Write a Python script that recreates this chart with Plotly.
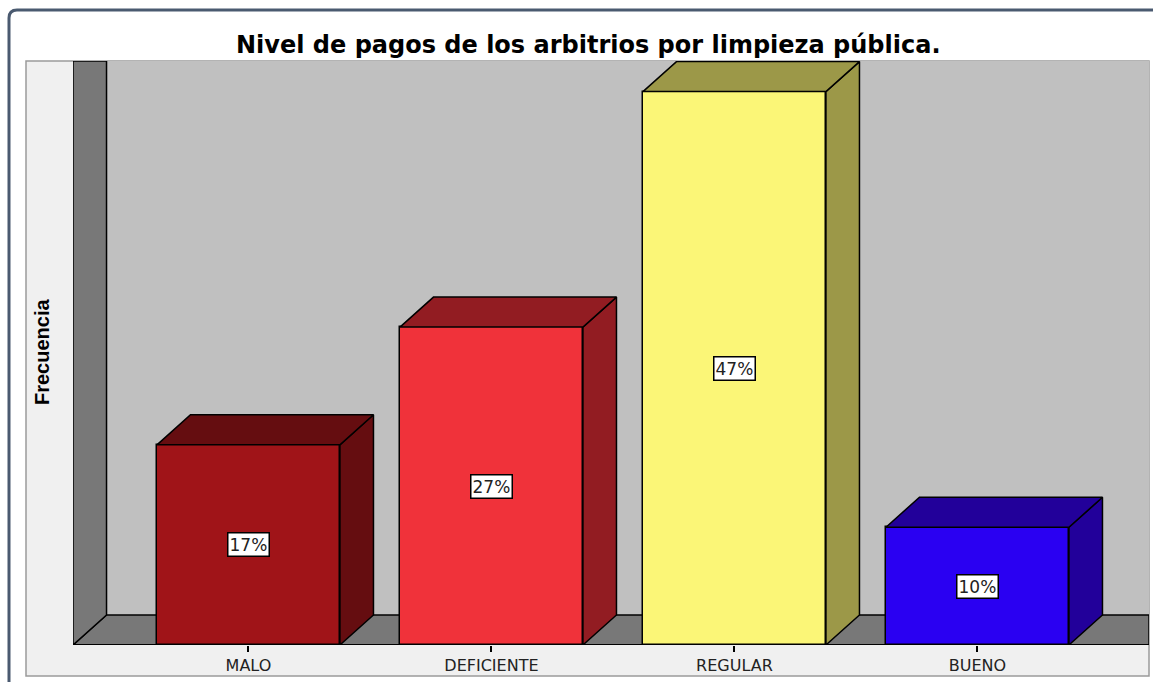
import plotly.graph_objects as go

# ---- data ----
categories = ["MALO", "DEFICIENTE", "REGULAR", "BUENO"]
percentages = [17, 27, 47, 10]
labels = ["17%", "27%", "47%", "10%"]
front_colors = ["#a01418", "#f0323a", "#fbf677", "#2a00f2"]
side_colors = ["#650d10", "#921c22", "#9c9848", "#22009a"]

title_text = "Nivel de pagos de los arbitrios por limpieza pública."
y_title = "Frecuencia"

# ---- geometry (axis units) ----
W, H = 1153, 682
px_x0, px_x1 = 73, 1149      # plot area pixel extents
px_y0, px_y1 = 61, 645
XMIN, XMAX = -0.722, 3.706
YMAX = 49.6
BAR_W = 0.753
DX = 0.138
DY = 2.55

def fx(px):
    return px / W

def fy(py):
    return 1 - py / H

fig = go.Figure()

# front faces
fig.add_trace(go.Bar(
    x=list(range(len(categories))), y=percentages, width=BAR_W,
    marker=dict(color=front_colors, line=dict(color="black", width=1.5)),
    hoverinfo="skip", showlegend=False,
))

# side and top faces
for i, v in enumerate(percentages):
    xl = i - BAR_W / 2
    xr = i + BAR_W / 2
    fig.add_trace(go.Scatter(
        x=[xr, xr + DX, xr + DX, xr, xr],
        y=[0, DY, v + DY, v, 0],
        fill="toself", fillcolor=side_colors[i], mode="lines",
        line=dict(color="black", width=1.5), hoverinfo="skip", showlegend=False,
    ))
    fig.add_trace(go.Scatter(
        x=[xl, xl + DX, xr + DX, xr, xl],
        y=[v, v + DY, v + DY, v, v],
        fill="toself", fillcolor=side_colors[i], mode="lines",
        line=dict(color="black", width=1.5), hoverinfo="skip", showlegend=False,
    ))

shapes = []
# outer panel (paper)
shapes.append(dict(type="rect", xref="paper", yref="paper", layer="below",
                   x0=fx(26), x1=fx(1149), y0=fy(676), y1=fy(61),
                   fillcolor="#f0f0f0", line=dict(color="#9a9a9a", width=1.5)))
# back wall
shapes.append(dict(type="rect", xref="x", yref="y", layer="below",
                   x0=XMIN + DX, x1=XMAX, y0=DY, y1=YMAX,
                   fillcolor="#c0c0c0", line=dict(width=0)))
# outer frame with rounded corner
r = 8
path = (f"M {fx(9)},{fy(H + 5)} L {fx(9)},{fy(10 + r)} "
        f"Q {fx(9)},{fy(10)} {fx(9 + r)},{fy(10)} L {fx(W + 5)},{fy(10)}")
shapes.append(dict(type="path", xref="paper", yref="paper", path=path,
                   line=dict(color="#4a5a70", width=3)))
# floor
shapes.append(dict(type="path", xref="x", yref="y", layer="below",
                   path=f"M {XMIN},0 L {XMIN + DX},{DY} L {XMAX},{DY} L {XMAX},0 Z",
                   fillcolor="#787878", line=dict(color="black", width=1.5)))
# left wall
shapes.append(dict(type="path", xref="x", yref="y", layer="below",
                   path=f"M {XMIN},0 L {XMIN},{YMAX} L {XMIN + DX},{YMAX} L {XMIN + DX},{DY} Z",
                   fillcolor="#787878", line=dict(color="black", width=1.5)))
# floor front edge
shapes.append(dict(type="line", xref="x", yref="y", x0=XMIN, x1=XMAX, y0=0, y1=0,
                   line=dict(color="black", width=2)))

annotations = []
for i, v in enumerate(percentages):
    annotations.append(dict(x=i, y=v / 2, xref="x", yref="y", text=labels[i],
                            showarrow=False, bgcolor="white", bordercolor="black",
                            borderwidth=1.5, borderpad=1,
                            xanchor="center", yanchor="middle",
                            font=dict(family="DejaVu Sans", size=17, color="#222")))
annotations.append(dict(x=fx(588), y=fy(45), xref="paper", yref="paper",
                        xanchor="center", yanchor="middle",
                        text=f"<b>{title_text}</b>", showarrow=False,
                        font=dict(family="DejaVu Sans", size=24, color="black")))
annotations.append(dict(x=fx(42), y=fy(352), xref="paper", yref="paper",
                        xanchor="center", yanchor="middle",
                        text=f"<b>{y_title}</b>", showarrow=False, textangle=-90,
                        font=dict(family="Liberation Sans Narrow, Arial Narrow, Liberation Sans",
                                  size=20, color="black")))

fig.update_layout(
    width=W, height=H,
    margin=dict(l=0, r=0, t=0, b=0),
    paper_bgcolor="white",
    plot_bgcolor="#c0c0c0",
    shapes=shapes,
    annotations=annotations,
    showlegend=False,
    bargap=0,
    xaxis=dict(domain=[fx(px_x0), fx(px_x1)], range=[XMIN, XMAX],
               tickvals=list(range(len(categories))), ticktext=categories,
               ticks="outside", ticklen=6, tickcolor="black", tickwidth=1.5,
               showgrid=False, zeroline=False, showline=False,
               tickfont=dict(family="DejaVu Sans", size=16, color="#222")),
    yaxis=dict(domain=[fy(px_y1), fy(px_y0)], range=[0, YMAX],
               visible=False, showgrid=False, zeroline=False),
)

fig.write_html("out.html", config={"displayModeBar": False},
               post_script="document.body.style.margin='0';")
